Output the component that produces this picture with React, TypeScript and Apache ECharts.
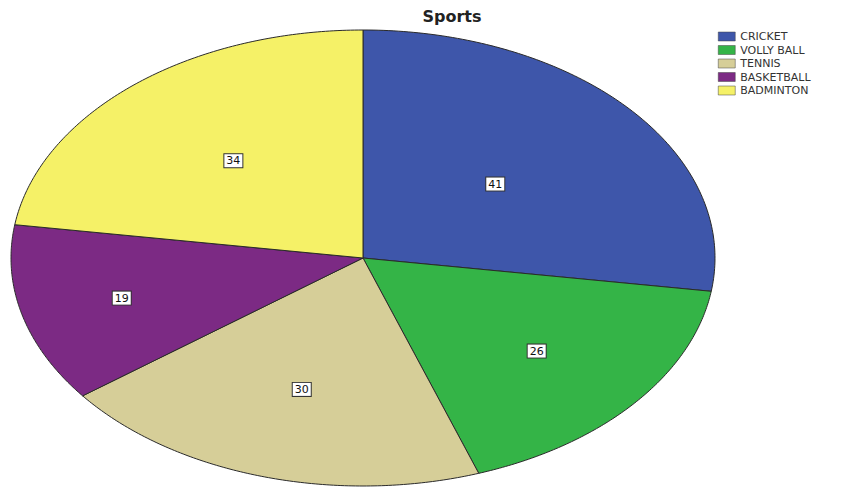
import React, { useEffect, useRef } from "react";
import * as echarts from "echarts";

const categories = ["CRICKET", "VOLLY BALL", "TENNIS", "BASKETBALL", "BADMINTON"];
const values = [41, 26, 30, 19, 34];
const colors = ["#3e56aa", "#34b447", "#d6ce98", "#7c2a84", "#f5f167"];
const titleText = "Sports";

const CX = 363;
const CY = 258;
const RX = 352;
const RY = 228;

export default function App() {
  const ref = useRef<HTMLDivElement>(null);
  useEffect(() => {
    if (!ref.current) return;
    const chart = echarts.init(ref.current, null, { renderer: "svg" });
    const total = values.reduce((a, b) => a + b, 0);
    const series = categories.map((name, i) => {
      const before = values.slice(0, i).reduce((a, b) => a + b, 0);
      return {
        type: "custom",
        name,
        coordinateSystem: "none",
        data: [values[i]],
        itemStyle: { color: colors[i] },
        renderItem: (params: any, api: any) => {
          const v = api.value(0);
          const a0 = (before / total) * Math.PI * 2;
          const a1 = ((before + v) / total) * Math.PI * 2;
          const pts: number[][] = [[CX, CY]];
          const steps = 120;
          for (let s = 0; s <= steps; s++) {
            const a = a0 + ((a1 - a0) * s) / steps;
            pts.push([CX + RX * Math.sin(a), CY - RY * Math.cos(a)]);
          }
          const am = (a0 + a1) / 2;
          const sweepDeg = ((a1 - a0) * 180) / Math.PI;
          const lr = 0.89 - 0.004 * sweepDeg;
          const lx = CX + RX * lr * Math.sin(am);
          const ly = CY - RY * lr * Math.cos(am);
          return {
            type: "group",
            children: [
              {
                type: "polygon",
                shape: { points: pts },
                style: { fill: colors[i], stroke: "#2a2a2a", lineWidth: 1 },
              },
              {
                type: "text",
                x: lx,
                y: ly,
                style: {
                  text: String(v),
                  fill: "#111",
                  font: "11px 'DejaVu Sans', sans-serif",
                  align: "center",
                  verticalAlign: "middle",
                  backgroundColor: "#ffffff",
                  borderColor: "#333",
                  borderWidth: 1,
                  padding: [1, 2, 1, 2],
                },
              },
            ],
          };
        },
      };
    });
    chart.setOption({
      animation: false,
      backgroundColor: "#ffffff",
      title: {
        text: titleText,
        left: 452,
        top: 8,
        padding: 0,
        textAlign: "center",
        textStyle: {
          fontFamily: "'DejaVu Sans', sans-serif",
          fontWeight: "bold",
          fontSize: 16,
          color: "#222",
        },
      },
      legend: {
        orient: "vertical",
        left: 713,
        top: 26,
        itemWidth: 17,
        itemHeight: 9,
        itemGap: 2.5,
        icon: "rect",
        data: categories,
        textStyle: {
          fontFamily: "'DejaVu Sans', sans-serif",
          fontSize: 11,
          lineHeight: 11,
          color: "#333",
        },
        itemStyle: { borderColor: "#444", borderWidth: 0.5 },
      },
      series,
    } as any);
    return () => chart.dispose();
  }, []);
  return (
    <div
      ref={ref}
      style={{ position: "fixed", left: 0, top: 0, width: 841, height: 488 }}
    />
  );
}
